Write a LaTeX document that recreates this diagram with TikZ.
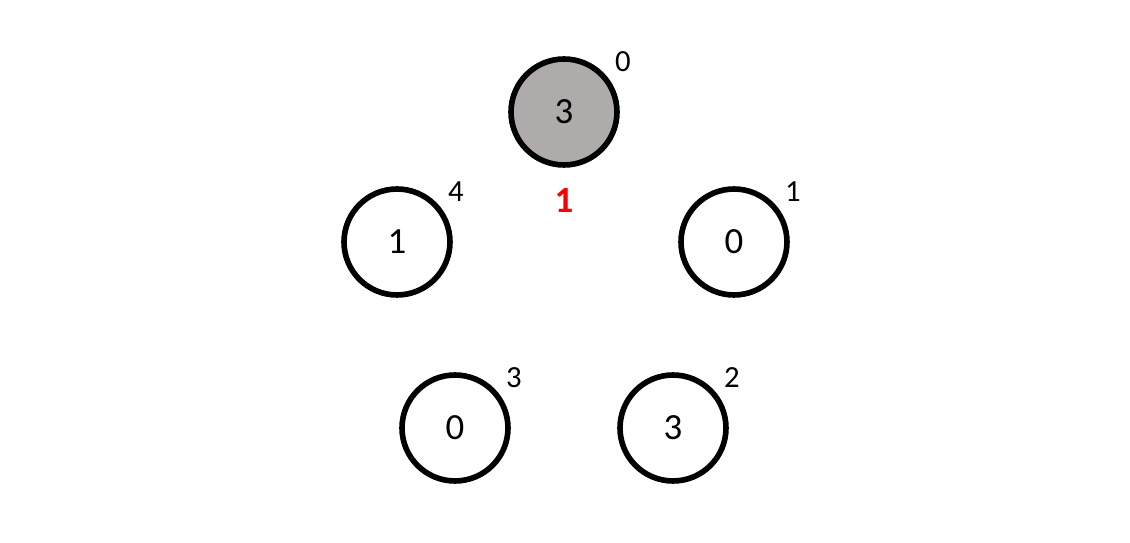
\documentclass[tikz,border=0pt]{standalone}
\usepackage{fontspec}
\setmainfont{Carlito}
\usetikzlibrary{positioning,calc}
\definecolor{Ink}{HTML}{000000}
\definecolor{Stone}{HTML}{AFABAB}
\definecolor{Alert}{HTML}{FF0000}
\tikzset{
  vertexbox/.style={draw=Ink,fill=white,circle,line width=3.2pt,minimum size=2.12cm,inner sep=0pt,font=\fontsize{21}{25}\selectfont,text=Ink},
  activebox/.style={vertexbox,fill=Stone},
  indexlabel/.style={font=\fontsize{17.5}{21}\selectfont,text=Ink,inner sep=0pt},
  countlabel/.style={font=\fontsize{21}{25}\selectfont\bfseries,text=Alert,inner sep=0pt}
}
\begin{document}
\begin{tikzpicture}[x=0.02cm,y=-0.02cm]
  \useasboundingbox (0,0) rectangle (1130,543);
  \node[activebox] (n0) at (564,112) {3};
  \node[vertexbox] (n1) at (734,242) {0};
  \node[vertexbox] (n2) at (673,428) {3};
  \node[vertexbox] (n3) at (455,428) {0};
  \node[vertexbox] (n4) at (397,242) {1};
  % index of each vertex
  \node[indexlabel] (i0) at ($(n0)+(59,-50)$) {0};
  \node[indexlabel] (i1) at ($(n1)+(59,-50)$) {1};
  \node[indexlabel] (i2) at ($(n2)+(59,-50)$) {2};
  \node[indexlabel] (i3) at ($(n3)+(59,-50)$) {3};
  \node[indexlabel] (i4) at ($(n4)+(59,-50)$) {4};
  \node[countlabel,below=0.4cm of n0] (count) {1};
\end{tikzpicture}
\end{document}
